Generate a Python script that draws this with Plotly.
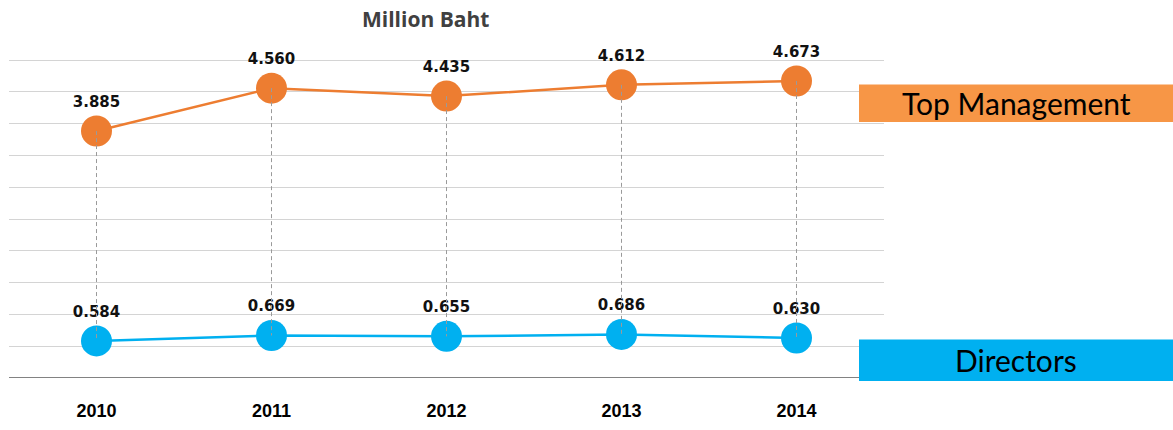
import plotly.graph_objects as go

years = ["2010", "2011", "2012", "2013", "2014"]
top_management = [3.885, 4.560, 4.435, 4.612, 4.673]
directors = [0.584, 0.669, 0.655, 0.686, 0.630]
top_labels = ["3.885", "4.560", "4.435", "4.612", "4.673"]
dir_labels = ["0.584", "0.669", "0.655", "0.686", "0.630"]

ORANGE_LINE = "#ED7D31"
ORANGE_BOX = "#F79646"
BLUE = "#00B0F0"

fig = go.Figure()

label_font_bold = dict(family="DejaVu Sans", size=15, color="#111111", weight="bold")

fig.add_trace(go.Scatter(
    x=years, y=top_management, mode="lines+markers+text",
    line=dict(color=ORANGE_LINE, width=2.5),
    marker=dict(color=ORANGE_LINE, size=31),
    text=top_labels, textposition="top center",
    textfont=label_font_bold, cliponaxis=False, hoverinfo="skip",
))
fig.add_trace(go.Scatter(
    x=years, y=directors, mode="lines+markers+text",
    line=dict(color=BLUE, width=2.5),
    marker=dict(color=BLUE, size=31),
    text=dir_labels, textposition="top center",
    textfont=label_font_bold, cliponaxis=False, hoverinfo="skip",
))

# dashed drop lines between the two series
for yr, t, d in zip(years, top_management, directors):
    fig.add_trace(go.Scatter(
        x=[yr, yr], y=[t, d], mode="lines",
        line=dict(color="#9a9a9a", width=1, dash="4px,3px"),
        hoverinfo="skip",
    ))

# plot area: x 9..884, y 57..383 (0..5.05)
L, R, T, B = 9, 884, 57, 383

def px(x):
    return (x - L) / (R - L)

def py(y):
    return (B - y) / (B - T)

fig.update_layout(
    width=1173, height=430,
    margin=dict(l=L, r=1173 - R, t=T, b=430 - B),
    paper_bgcolor="white", plot_bgcolor="white",
    showlegend=False,
    xaxis=dict(
        type="category", range=[-0.5, 4.5], showgrid=False, zeroline=False,
        showline=False, ticks="",
        tickfont=dict(family="Liberation Sans", size=18, color="#000000", weight="bold"),
        ticklabelstandoff=20,
    ),
    yaxis=dict(
        range=[0, 5.05], tick0=0, dtick=0.5, showgrid=True, gridcolor="#d4d4d4", gridwidth=1,
        zeroline=False, showticklabels=False, ticks="", showline=False,
    ),
    shapes=[
        dict(type="line", xref="paper", yref="y", x0=0, x1=1.2, y0=0, y1=0,
             line=dict(color="#595959", width=1.5), layer="above"),
        dict(type="rect", xref="paper", yref="paper",
             x0=px(859), x1=px(1180), y0=py(123), y1=py(85),
             fillcolor=ORANGE_BOX, line=dict(width=0), layer="above"),
        dict(type="rect", xref="paper", yref="paper",
             x0=px(859), x1=px(1180), y0=py(386), y1=py(344),
             fillcolor=BLUE, line=dict(width=0), layer="above"),
    ],
    annotations=[
        dict(text="Million Baht", xref="paper", yref="paper",
             x=px(425), y=py(18), showarrow=False,
             xanchor="center", yanchor="middle",
             font=dict(family="Open Sans", size=21, color="#404040", weight="bold")),
        dict(text="Top Management", xref="paper", yref="paper",
             x=px(1016), y=py(104), showarrow=False,
             xanchor="center", yanchor="middle",
             font=dict(family="Lato", size=30, color="#000000")),
        dict(text="Directors", xref="paper", yref="paper",
             x=px(1016), y=py(365), showarrow=False,
             xanchor="center", yanchor="middle",
             font=dict(family="Lato", size=30, color="#000000")),
    ],
)

fig.write_html(
    "out.html",
    config={"displayModeBar": False},
    post_script="document.body.style.margin='0';document.body.style.overflow='hidden';",
)
